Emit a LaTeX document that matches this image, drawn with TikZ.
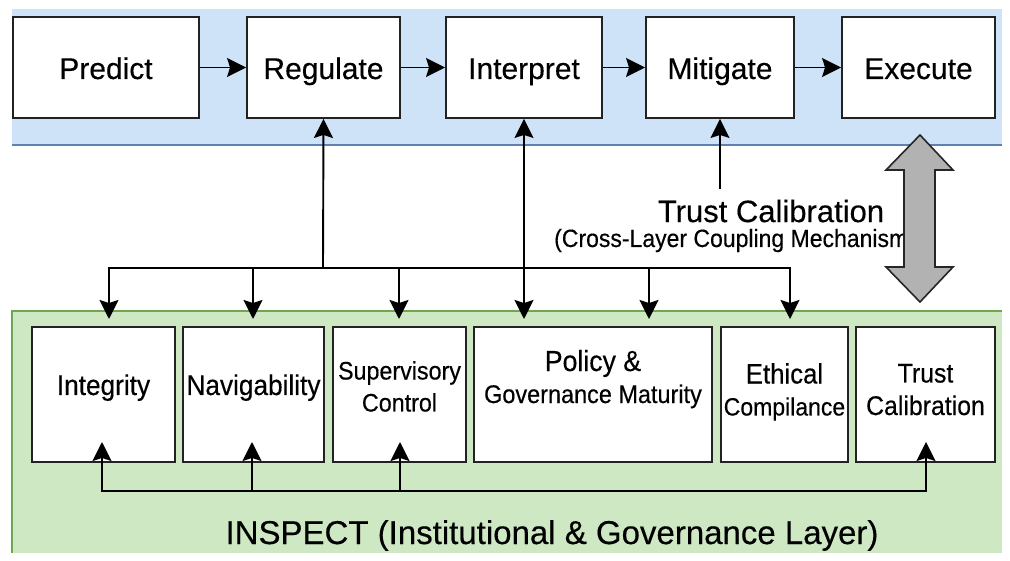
\documentclass[tikz,border=0pt]{standalone}
\usepackage{fontspec}
\setmainfont{Liberation Sans}[FakeBold=0.35]
\newfontfamily\condf[FakeStretch=0.92,FakeBold=0.35]{Liberation Sans}
\usetikzlibrary{arrows.meta}
\definecolor{bandblue}{HTML}{CFE3F8}
\definecolor{bandline}{HTML}{5F83B0}
\definecolor{layergreen}{HTML}{CEE8C4}
\definecolor{layerline}{HTML}{6FA64F}
\definecolor{boxline}{HTML}{222222}
\begin{document}
\begin{tikzpicture}[x=1pt,y=-1pt,
  box/.style={draw=boxline, line width=1.9pt, fill=white, inner sep=0pt, align=center, text depth=0pt},
  topbox/.style={box, minimum height=101pt, text height=23pt, font=\fontsize{30}{36}\selectfont},
  lowbox/.style={box, minimum height=135pt, font=\condf\fontsize{28.5}{32}\selectfont},
  tip/.tip={Stealth[length=19pt,width=19pt,inset=3pt]},
  arr/.style={line width=1.9pt, draw=black, -tip},
  darr/.style={line width=1.9pt, draw=black, tip-tip},
  link/.style={line width=1.9pt, draw=black}]
\useasboundingbox (0,0) rectangle (1010,561);
% layers
\fill[bandblue] (12,9) rectangle (1002,145);
\draw[bandline, line width=2.2pt] (12,145) -- (1002,145);
\fill[layergreen] (12,311) rectangle (1002,553);
\draw[layerline, line width=1.5pt] (12,553) -- (12,311) -- (1002,311);
% top row
\node[topbox, minimum width=186pt] (predict)   at (106,67.5)   {Predict};
\node[topbox, minimum width=153pt] (regulate)  at (323.5,67.5) {Regulate};
\node[topbox, minimum width=156pt] (interpret) at (524,67.5)   {Interpret};
\node[topbox, minimum width=148pt] (mitigate)  at (720,67.5)   {Mitigate};
\node[topbox, minimum width=153pt] (execute)   at (918.5,67.5) {Execute};
\draw[arr] (predict) -- (regulate);
\draw[arr] (regulate) -- (interpret);
\draw[arr] (interpret) -- (mitigate);
\draw[arr] (mitigate) -- (execute);
% bottom row
\node[lowbox, minimum width=143pt, text height=1pt] (integ) at (103.5,394.5) {Integrity};
\node[lowbox, minimum width=141pt, text height=1pt] (navig) at (253.5,394.5) {Navigability};
\node[lowbox, minimum width=133pt, text height=34pt, font=\condf\fontsize{25.3}{32}\selectfont] (superv) at (399.5,394.5) {Supervisory\\Control};
\node[lowbox, minimum width=238pt, text height=17pt] (policy) at (593,394.5)
  {\fontsize{29}{32}\selectfont Policy \&\\\fontsize{25.5}{32}\selectfont Governance Maturity};
\node[lowbox, minimum width=127pt, text height=42pt] (ethic) at (784.5,394.5)
  {\fontsize{28}{32}\selectfont Ethical\\\fontsize{25}{32}\selectfont Compilance};
\node[lowbox, minimum width=139pt, text height=41pt, font=\condf\fontsize{27}{32.5}\selectfont] (trust) at (925.5,394.5) {Trust\\Calibration};
% distribution bus from Regulate
\coordinate (j)  at (323,268);
\coordinate (bL) at (109,268);
\coordinate (b2) at (253,268);
\coordinate (b3) at (399,268);
\coordinate (b4) at (649,268);
\coordinate (bR) at (790,268);
\coordinate (t1) at (109,319);
\coordinate (t2) at (253,319);
\coordinate (t3) at (399,319);
\coordinate (t4) at (649,319);
\coordinate (t5) at (790,319);
\coordinate (ti) at (524,319);
\draw[darr] (t1) -- (bL) -- (bR) -- (t5);
\draw[arr] (b2) -- (t2);
\draw[arr] (b3) -- (t3);
\draw[arr] (b4) -- (t4);
\draw[arr] (j) -- (regulate.south);
\draw[darr] (ti) -- (interpret.south);
% trust calibration label and arrow to Mitigate
\coordinate (m0) at (720,189);
\draw[arr] (m0) -- (mitigate.south);
\node[font=\fontsize{31}{36}\selectfont, inner sep=0pt] (tclab) at (771,211) {Trust Calibration};
\node[font=\condf\fontsize{25}{28}\selectfont, anchor=base west, inner sep=0pt] (tcsub) at (554,247) {(Cross-Layer Coupling Mechanism)};
% bottom feedback bus
\coordinate (u1) at (102,491);
\coordinate (u2) at (252,491);
\coordinate (u3) at (400,491);
\coordinate (u4) at (926,491);
\coordinate (v1) at (102,442);
\coordinate (v2) at (252,442);
\coordinate (v3) at (400,442);
\coordinate (v4) at (926,442);
\draw[darr] (v1) -- (u1) -- (u4) -- (v4);
\draw[arr] (u2) -- (v2);
\draw[arr] (u3) -- (v3);
% layer label
\node[font=\fontsize{33}{40}\selectfont, anchor=base, inner sep=0pt] (inspect) at (552,544) {INSPECT (Institutional \& Governance Layer)};
% cross-layer double arrow
\filldraw[fill=black!30, draw=black!85, line width=1.6pt, line join=miter]
  (920,135) -- (953,170) -- (935,170) -- (935,267) -- (953,267) -- (920,302)
  -- (886,267) -- (904,267) -- (904,170) -- (886,170) -- cycle;
\end{tikzpicture}
\end{document}
